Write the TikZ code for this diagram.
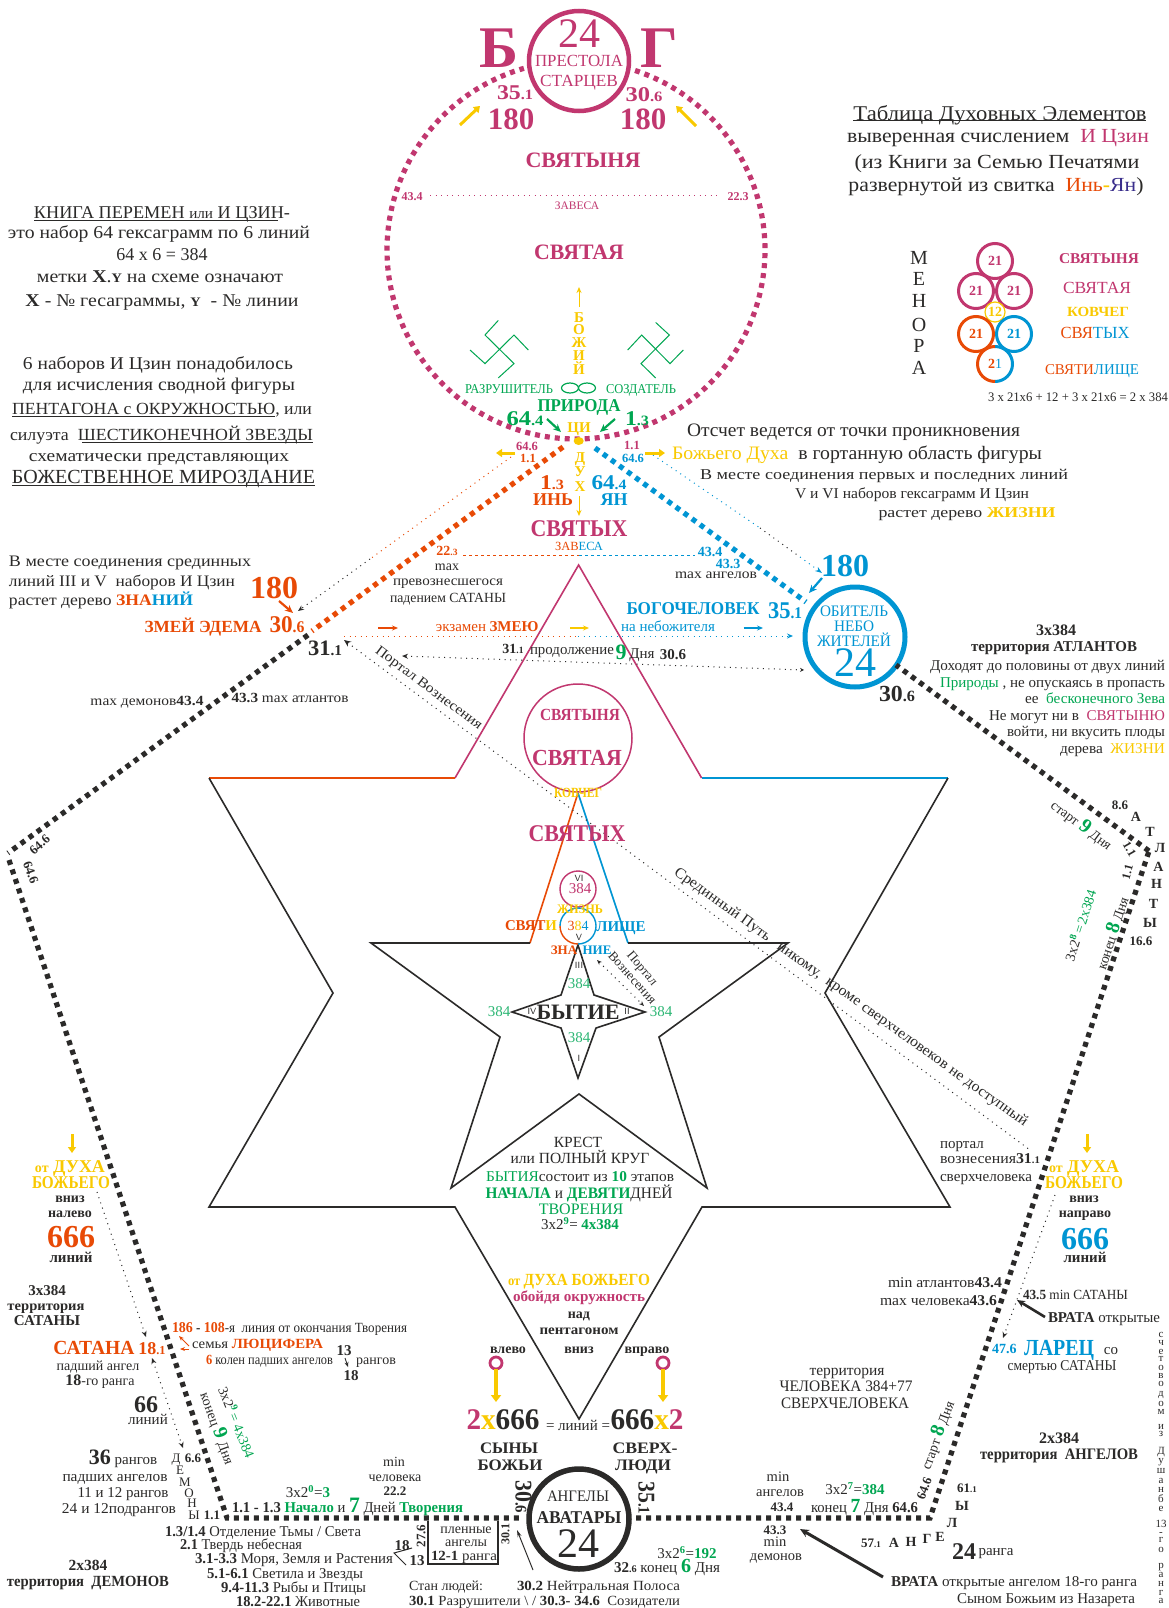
\documentclass[tikz,border=0pt]{standalone}
\usepackage{fontspec}
\usepackage{graphicx}
\setmainfont{Liberation Serif}
\usetikzlibrary{arrows.meta}
\definecolor{ink}{HTML}{2B2A29}
\definecolor{mg}{HTML}{C1376F}
\definecolor{og}{HTML}{E84A06}
\definecolor{bl}{HTML}{0095D3}
\definecolor{gd}{HTML}{F9C900}
\definecolor{gn}{HTML}{00A651}
\definecolor{gl}{HTML}{2BB673}
\definecolor{ya}{HTML}{3A2E8C}
\newcounter{tn}
\tikzset{
 lab/.style={inner sep=0pt,outer sep=0pt,anchor=mid,text=ink},
 lft/.style={anchor=mid west},
 rgt/.style={anchor=mid east},
 dots/.style={line width=5.2pt,dash pattern=on 5pt off 5pt},
 fine/.style={line width=1pt,dash pattern=on 1pt off 4.5pt},
 edge/.style={line width=1.6pt,line join=miter},
 bigarr/.style={line width=3pt,-{Triangle[length=6pt,width=8pt]}},
 thin arr/.style={line width=1pt,-{Stealth[length=6pt,width=5pt]}},
 med arr/.style={line width=2.2pt,-{Stealth[length=8pt,width=7pt]}},
 ring/.style={circle,draw,inner sep=0pt,outer sep=0pt},
}
\newcommand\T[4][]{\stepcounter{tn}\node[lab,yshift={-(0.25*#3-2.2)*1pt},#1] (t\arabic{tn}) at (#2) {\fontsize{#3}{#3}\selectfont #4};}
\newcommand\W[5][]{\stepcounter{tn}\node[lab,yshift={-(0.25*#3-2.2)*1pt},#1] (t\arabic{tn}) at (#2) {\fontsize{#3}{#3}\selectfont\resizebox{#4pt}{\height}{#5}};}
\newcommand\B[1]{\textbf{#1}}
\newcommand\sm[1]{\scalebox{.68}{#1}}
\newcommand\cc[2]{\textcolor{#1}{#2}}
\begin{document}
\begin{tikzpicture}[x=1pt,y=-1pt]
\fill[white] (0,0) rectangle (1168,1608);
\useasboundingbox (0,0) rectangle (1168,1608);
% ---------- key points
\coordinate (oTop) at (563,447);
\coordinate (oEnd) at (312,631);
\coordinate (kA) at (308,635);
\coordinate (kB) at (8,853);
\coordinate (kC) at (9,860);
\coordinate (kD) at (227,1518);
\coordinate (kE) at (522,1518);
\coordinate (kF) at (636,1518);
\coordinate (kG) at (930,1518);
\coordinate (kH) at (1149,851);
\coordinate (kI) at (896,665);
\coordinate (bTop) at (595,448);
\coordinate (bEnd) at (806,602);
% ---------- large star
\coordinate (s1) at (578.6,565);\coordinate (s2) at (701.6,778);\coordinate (s3) at (948,778);
\coordinate (s4) at (825,993);\coordinate (s5) at (950,1207);\coordinate (s6) at (702,1207);
\coordinate (s7) at (579,1419);\coordinate (s8) at (455,1207);\coordinate (s9) at (209,1207);
\coordinate (s10) at (333,993);\coordinate (s11) at (209,778);\coordinate (s12) at (455,778);
\draw[edge,mg] (s12)--(s1)--(s2);
\draw[edge,bl] (s2)--(s3);
\draw[edge,og] (s11)--(s12);
\draw[edge,ink] (s3)--(s4)--(s5)--(s6)--(s7)--(s8)--(s9)--(s10)--(s11);
% ---------- five pointed star
\coordinate (p1) at (578,793);\coordinate (p2) at (628,943);\coordinate (p3) at (788,943);
\coordinate (p4) at (659,1037);\coordinate (p5) at (707,1188);\coordinate (p6) at (579,1094);
\coordinate (p7) at (451,1188);\coordinate (p8) at (500,1037);\coordinate (p9) at (371,943);
\coordinate (p10) at (530,943);
\draw[edge,og] (p10)--(p1);
\draw[edge,bl] (p1)--(p2);
\draw[edge,ink] (p10)--(p9)--(p8)--(p7)--(p6)--(p5)--(p4)--(p3)--(p2);
% ---------- four pointed star
\draw[edge,ink] (578,945)--(594,995)--(645,1012)--(596,1028)--(578,1078)--(561,1028)--(512,1012)--(561,995)--cycle;
% ---------- heavy circles
\node[ring,mg,line width=4.5pt,minimum size=100pt] (throne) at (579,61) {};
\node[ring,bl,line width=5pt,minimum size=100pt] (abode) at (855,637) {};
\node[ring,ink,line width=5.5pt,minimum size=100pt] (avatars) at (579,1519) {};
\node[ring,mg,line width=1.5pt,minimum size=108pt] (sanct) at (578,738) {};
\node[ring,mg,line width=1.4pt,minimum size=36pt] (life) at (578,889) {};
\draw[bl,line width=1.4pt] (560,926) arc[start angle=180,end angle=-90,radius=18pt];
\draw[og,line width=1.4pt] (560,926) arc[start angle=180,end angle=270,radius=18pt];
% ---------- big dashed circle
\draw[mg,dots] plot[domain=-71.8:254,samples=220,smooth] ({576+189*cos(\x)},{250+189*sin(\x)});
\fill[gd] (578.7,441) ellipse[x radius=5pt,y radius=4pt];
% ---------- pentagon dashed
\draw[og,dots] (oTop)--(oEnd);
\draw[bl,dots] (bTop)--(bEnd);
\draw[ink,dots] (kA)--(kB);
\draw[ink,dots] (kC)--(kD)--(kE);
\draw[ink,dots] (kF)--(kG)--(kH);
\draw[ink,dots] (kH)--(kI);
% ---------- fine dotted lines
\draw[mg,fine] (430,196)--(718,196);
\draw[og,line width=1pt,dash pattern=on 3pt off 3pt] (463,555.4)--(579,555.4);
\draw[bl,line width=1pt,dash pattern=on 3pt off 3pt] (579,555.4)--(695,555.4);
\draw[og,fine] (511,457)--(370,559);
\draw[ink,fine,-{Stealth[length=6pt,width=5pt]}] (370,559)--(298,611);
\draw[bl,fine] (653,455)--(760,528);
\draw[ink,fine] (760,528)--(800,557);
\draw[bl,fine,-{Stealth[length=7pt,width=5pt]}] (800,557)--(822,573);
\draw[og,fine] (344,636)--(578,636);
\draw[bl,fine,-{Stealth[length=6pt,width=5pt]}] (578,636)--(793,636);
\draw[ink,fine,{Stealth[length=6pt,width=5pt]}-{Stealth[length=4pt,width=4pt]}] (402,656)--(804,670);
\draw[ink,fine,{Stealth[length=7pt,width=6pt]}-] (344,640)--(1030,1150);
\draw[ink,fine,{Stealth[length=5pt,width=4pt]}-{Stealth[length=5pt,width=4pt]}] (597,960)--(644,1006);
\draw[ink,fine,-{Stealth[length=6pt,width=5pt]}] (97,1192)--(146,1337);
\draw[ink,fine,{Stealth[length=6pt,width=5pt]}-{Stealth[length=6pt,width=5pt]}] (152,1358)--(183,1448);
\draw[ink,fine,-{Stealth[length=6pt,width=5pt]}] (1055,1195)--(1003,1338);
% ---------- arrows
\draw[gd,bigarr] (460,125)--(480,106);
\draw[gd,bigarr] (696,126)--(676,106);
\draw[gd,thin arr] (579,307)--(579,287);
\draw[gd,thin arr] (579,496)--(579,516);
\draw[gn,med arr] (547,419)--(561,432);
\draw[gn,med arr] (615,419)--(600,432);
\draw[gd,bigarr] (515,453)--(496,453);
\draw[gd,bigarr] (645,453)--(665,453);
\draw[og,med arr] (279,601)--(293,613);
\draw[bl,med arr] (822,578)--(809,593);
\draw[og,line width=1.2pt,-{Stealth[length=6pt,width=5pt]}] (378,628)--(398,628);
\draw[gd,line width=1.2pt,-{Stealth[length=6pt,width=5pt]}] (570,628)--(589,628);
\draw[bl,line width=1.2pt,-{Stealth[length=6pt,width=5pt]}] (743.5,628)--(763,628);
\draw[gd,bigarr] (72,1134)--(72,1153);
\draw[gd,bigarr] (1087,1134)--(1087,1153);
\draw[og,line width=1pt,-{Stealth[length=5pt,width=4pt]}] (189,1346)--(179,1336);
\draw[og,line width=1pt,-{Stealth[length=5pt,width=4pt]}] (189,1349)--(180,1349);
\draw[ink,line width=.8pt,-{Stealth[length=5pt,width=4pt]}] (345,1358)--(348,1367);
\draw[ink,line width=1pt] (412,1548)--(394,1553)--(406,1565);
\draw[ink,line width=1pt,-{Stealth[length=7pt,width=4pt]}] (533,1570)--(517,1530);
\draw[ink,line width=2.6pt,-{Stealth[length=8pt,width=7pt]}] (1045,1317)--(1017,1300);
\draw[ink,line width=3pt,-{Stealth[length=9pt,width=8pt]}] (883,1577)--(800,1529);
\node[ring,mg,line width=2.8pt,minimum size=12pt] (ringL) at (496,1363) {};
\node[ring,mg,line width=2.8pt,minimum size=12pt] (ringR) at (663,1363) {};
\draw[gd,line width=4pt,-{Triangle[length=7pt,width=10pt]}] (ringL)--(496,1402);
\draw[gd,line width=4pt,-{Triangle[length=7pt,width=10pt]}] (ringR)--(663,1402);
% captive angels box
\draw[ink,line width=1.4pt] (428,1521)--(428,1564)--(498,1564)--(498,1521);
% swastikas
\draw[gn,line width=1pt] (498.3,320.4)--(485,335)--(514,363.6)--(498.3,377.9);
\draw[gn,line width=1pt] (470,350)--(485,363.6)--(514,335)--(528.3,350);
\draw[gn,line width=1pt] (655.7,322.5)--(669.3,335)--(641,363.6)--(655.7,378);
\draw[gn,line width=1pt] (627.7,350)--(641.7,335)--(670,363.6)--(683.3,350);
\draw[gn,line width=1.2pt] (570,388) ellipse[x radius=8.5pt,y radius=5pt];
\draw[gn,line width=1.2pt] (587,388) ellipse[x radius=8.5pt,y radius=5pt];
% menorah
\node[ring,mg,line width=3pt,minimum size=35pt] (m1) at (995,261) {};
\node[ring,mg,line width=3pt,minimum size=35pt] (m2) at (976,291) {};
\node[ring,mg,line width=3pt,minimum size=35pt] (m3) at (1014,291) {};
\node[ring,gd,line width=1.2pt,minimum size=20pt] (m4) at (995,312) {};
\node[ring,og,line width=3pt,minimum size=35pt] (m5) at (976,334) {};
\node[ring,bl,line width=3pt,minimum size=35pt] (m6) at (1014,334) {};
\draw[bl,line width=3pt] (995,346.5) arc[start angle=90,end angle=-90,radius=17.5pt];
\draw[og,line width=3pt] (995,346.5) arc[start angle=90,end angle=270,radius=17.5pt];
% underlines
\draw[ink,line width=1pt] (34,220)--(278,220);
\draw[ink,line width=1pt] (12,416)--(275,416);
\draw[ink,line width=1pt] (82,442)--(313,442);
\draw[ink,line width=1pt] (12,485)--(315,485);
\draw[ink,line width=1pt] (853,121)--(1146,121);
% ---------- top
\T{499,53}{59}{\cc{mg}{\B{Б}}}
\T{659,53}{59}{\cc{mg}{\B{Г}}}
\T{579,37.4}{42}{\cc{mg}{24}}
\W{579,62}{17}{88}{\cc{mg}{ПРЕСТОЛА}}
\W{579,82}{17}{78}{\cc{mg}{СТАРЦЕВ}}
\W{515,94}{21}{36}{\cc{mg}{\B{35\sm{.1}}}}
\W{644,96}{21}{37}{\cc{mg}{\B{30\sm{.6}}}}
\T{511,122}{31}{\cc{mg}{\B{180}}}
\T{643,122}{31}{\cc{mg}{\B{180}}}
\W{583,162}{22}{115}{\cc{mg}{\B{СВЯТЫНЯ}}}
\T{412,197}{12}{\cc{mg}{\B{43.4}}}
\T{738,197}{12}{\cc{mg}{\B{22.3}}}
\T{577,207}{11.5}{\cc{mg}{ЗАВЕСА}}
\W{579,254}{22}{90}{\cc{mg}{\B{СВЯТАЯ}}}
\T{579,319}{15}{\cc{gd}{\B{Б}}}
\T{579,331}{15}{\cc{gd}{\B{О}}}
\T{579,344}{15}{\cc{gd}{\B{Ж}}}
\T{579,357}{15}{\cc{gd}{\B{И}}}
\T{579,371}{15}{\cc{gd}{\B{Й}}}
\W{509,390}{13.5}{88}{\cc{gn}{РАЗРУШИТЕЛЬ}}
\W{641,390}{13.5}{70}{\cc{gn}{СОЗДАТЕЛЬ}}
\W{579,407}{18}{83}{\cc{gn}{\B{ПРИРОДА}}}
\W{525,420}{21}{37}{\cc{gn}{\B{64\sm{.4}}}}
\W{637,420}{21}{24}{\cc{gn}{\B{1\sm{.3}}}}
\T{579,429}{15}{\cc{gd}{\B{ЦИ}}}
\T{527,447}{12.5}{\cc{mg}{\B{64.6}}}
\T{528,459}{12.5}{\cc{og}{\B{1.1}}}
\T{632,446}{12.5}{\cc{mg}{\B{1.1}}}
\T{633,459}{12.5}{\cc{bl}{\B{64.6}}}
\T{580,459}{15}{\cc{gd}{\B{Д}}}
\T{580,473}{15}{\cc{gd}{\B{У}}}
\T{580,488}{15}{\cc{gd}{\B{Х}}}
\W{552,484}{21}{24}{\cc{og}{\B{1\sm{.3}}}}
\T{553,501}{18}{\cc{og}{\B{ИНЬ}}}
\W{609,484}{21}{35}{\cc{bl}{\B{64\sm{.4}}}}
\T{614,501}{18}{\cc{bl}{\B{ЯН}}}
\W{579,530}{24}{97}{\cc{mg}{\B{СВЯТЫХ}}}
\T{579,547}{12.5}{\cc{og}{ЗАВ}\cc{bl}{ЕСА}}
\T{447,552}{14}{\cc{og}{\B{22\sm{.3}}}}
\T{710,553}{14}{\cc{bl}{\B{43.4}}}
\T{728,565}{14}{\cc{bl}{\B{43.3}}}
\T{447,567}{14}{max}
\W{448,582}{14}{110}{превознесшегося}
\W{448,599}{14}{116}{падением САТАНЫ}
\W{716,575}{14}{82}{max ангелов}
% ---------- right explanations
\W[lft]{687,432}{19}{333}{Отсчет ведется от точки проникновения}
\W[lft]{672,455}{19}{370}{\cc{gd}{Божьего Духа}\ \ в гортанную область фигуры}
\W{884,476}{15}{368}{В месте соединения первых и последних линий}
\W{912,495}{15}{234}{V и VI наборов гексаграмм И Цзин}
\W{967,514}{15}{177}{растет дерево \cc{gd}{\B{ЖИЗНИ}}}
\W[lft]{9,562}{16}{242}{В месте соединения срединных}
\W[lft]{9,582}{16}{226}{линий III и V\ \ наборов И Цзин}
\W[lft]{9,601}{16}{184}{растет дерево \cc{og}{\B{ЗНА}}\cc{bl}{\B{НИЙ}}}
\T{274,590}{32}{\cc{og}{\B{180}}}
\W{203,628}{17}{117}{\cc{og}{\B{ЗМЕЙ ЭДЕМА}}}
\W{287,626}{24}{35}{\cc{og}{\B{30\sm{.6}}}}
\W{325,650}{22}{34}{\B{31\sm{.1}}}
\T{461,628}{15}{\cc{og}{экзамен}}
\T{514,628}{15}{\cc{og}{\B{ЗМЕЮ}}}
\T{668,628}{15}{\cc{bl}{на небожителя}}
\W{693,610}{18}{133}{\cc{bl}{\B{БОГОЧЕЛОВЕК}}}
\W{785,612}{24}{34}{\cc{bl}{\B{35\sm{.1}}}}
\T{845,568}{32}{\cc{bl}{\B{180}}}
\W{854,612}{16}{68}{\cc{bl}{ОБИТЕЛЬ}}
\W{854,627}{16}{40}{\cc{bl}{НЕБО}}
\W{854,642}{16}{74}{\cc{bl}{ЖИТЕЛЕЙ}}
\T{855,666}{42}{\cc{bl}{24}}
\T{513,650}{14}{\B{31\sm{.1}}}
\W[lft]{530,651}{15}{84}{продолжение}
\T{621,654}{22}{\cc{gn}{\B{9}}}
\T{642,655}{15}{Дня}
\T{673,656}{15}{\B{30.6}}
\W{147,702}{14}{113}{max демонов\B{43.4}}
\W{290,699}{14}{117}{\B{43.3} max атлантов}
\T[rotate=42]{41,845}{13}{\B{64.6}}
\T[rotate=-70]{29,872}{13}{\B{64.6}}
\W[rotate=-37]{428,688}{14}{130}{Портал Вознесения}
\W[rotate=-35.8]{850,997}{15}{432}{Срединный Путь\ \ \ никому,\ \ кроме сверхчеловеков не доступный}
\W{897,696}{23}{36}{\B{30\sm{.6}}}
\T{1056,631}{16}{\B{3x384}}
\W{1054,648}{15}{166}{\B{территория  АТЛАНТОВ}}
\W[rgt]{1165,667}{15}{235}{Доходят до половины от двух линий}
\W[rgt]{1165,684}{15}{225}{\cc{gn}{Природы} , не опускаясь в пропасть}
\W[rgt]{1165,700}{15}{140}{ее\ \ \cc{gn}{бесконечного Зева}}
\W[rgt]{1165,717}{15}{176}{Не могут ни в\ \ \cc{mg}{СВЯТЫНЮ}}
\W[rgt]{1165,733}{15}{158}{войти, ни вкусить плоды}
\W[rgt]{1165,750}{15}{105}{дерева\ \ \cc{gd}{ЖИЗНИ}}
\T{1120,806}{13}{\B{8.6}}
\T{1136,818}{14}{\B{А}}\T{1150,833}{14}{\B{Т}}\T{1160,849}{14}{\B{Л}}\T{1158.5,868}{14}{\B{А}}
\T{1156.5,885}{14}{\B{Н}}\T{1153.5,905}{14}{\B{Т}}\T{1150,924}{14}{\B{Ы}}
\T{1141,942}{13}{\B{16.6}}
\T[rotate=-37]{1080,826}{14}{старт \cc{gn}{\B{\fontsize{20}{20}\selectfont 9}} Дня}
\T[rotate=-60]{1128,849}{12}{\B{1.1}}
\T[rotate=75]{1129,872}{12}{\B{1.1}}
\T[rotate=72]{1115,933}{14}{конец \cc{gn}{\B{\fontsize{20}{20}\selectfont 8}} Дня}
\T[rotate=72]{1083,925}{14}{3x2\textsuperscript{\cc{gn}{\B{8}}}\,\cc{gn}{=\,2x384}}
% ---------- central stars text
\W{580,716}{17}{80}{\cc{mg}{\B{СВЯТЫНЯ}}}
\W{577,760}{23}{90}{\cc{mg}{\B{СВЯТАЯ}}}
\W{578,794}{14}{48}{\cc{gd}{\B{КОВЧЕГ}}}
\W{577,835}{24}{97}{\cc{mg}{\B{СВЯТЫХ}}}
\T{579,879}{9}{\sffamily VI}
\T{580,890}{15}{\cc{mg}{384}}
\W{580,910}{13}{46}{\cc{gd}{\B{ЖИЗНЬ}}}
\T{578,927}{14}{\cc{og}{3}\cc{gd}{8}\cc{bl}{4}}
\W[rgt]{557,927}{15}{52}{\cc{og}{\B{СВЯТ}}\cc{gd}{\B{И}}}
\T{621,928}{15}{\cc{bl}{\B{ЛИЩЕ}}}
\T{579,938}{9}{\sffamily V}
\T{564,951}{13}{\cc{og}{\B{ЗНА}}}
\T{597,951}{13}{\cc{bl}{\B{НИЕ}}}
\T{579,966}{9}{\sffamily III}
\T{579,985}{15}{\cc{gl}{384}}
\W{578,1014}{22}{83}{\B{БЫТИЕ}}
\T{532,1012}{9}{\sffamily IV}
\T{627,1012}{9}{\sffamily II}
\T{499,1013}{15}{\cc{gl}{384}}
\T{661,1013}{15}{\cc{gl}{384}}
\T{579,1039}{15}{\cc{gl}{384}}
\T{579,1059}{9}{\sffamily I}
\T[rotate=-50]{641,968}{13}{Портал}
\T[rotate=-48]{631,978}{13}{Вознесения}
\T{578,1144}{15.5}{КРЕСТ}
\T{580,1160}{15.5}{или ПОЛНЫЙ КРУГ}
\W{580,1178}{15}{188}{\cc{gn}{БЫТИЯ}состоит из \cc{gn}{\B{10}} этапов}
\W{579,1194}{16}{187}{\cc{gn}{\B{НАЧАЛА}} и \cc{gn}{\B{ДЕВЯТИ}}ДНЕЙ}
\T{581,1210}{16}{\cc{gn}{ТВОРЕНИЯ}}
\T{580,1226}{15}{3x2\textsuperscript{\cc{gn}{\B{9}}}= \cc{gn}{\B{4x384}}}
\W{579,1281}{17}{142}{\cc{gd}{\fontsize{14}{14}\selectfont\B{от} \fontsize{17}{17}\selectfont\B{ДУХА БОЖЬЕГО}}}
\W{579,1298}{15}{132}{\cc{mg}{\B{обойдя окружность}}}
\T{579,1315}{14}{\B{над}}
\W{579,1331}{14}{79}{\B{пентагоном}}
\T{579,1350}{14}{\B{вниз}}
\T{508,1350}{14}{\B{влево}}
\T{647,1350}{14}{\B{вправо}}
\W{503,1422}{30}{73}{\B{\cc{mg}{2}\cc{gd}{x}666}}
\W{647,1422}{30}{73}{\B{666\cc{gd}{x}\cc{mg}{2}}}
\T{578,1427}{15}{= линий =}
\W{509,1449}{16}{58}{\B{СЫНЫ}}
\W{510,1466}{16}{65}{\B{БОЖЬИ}}
\W{645,1449}{16}{65}{\B{СВЕРХ-}}
\W{643,1466}{16}{56}{\B{ЛЮДИ}}
\W[rotate=-90]{518,1493}{24}{33}{\B{30\sm{.6}}}
\W[rotate=-90]{641,1494}{24}{33}{\B{35\sm{.1}}}
\W{578,1497}{16}{62}{АНГЕЛЫ}
\W{579,1519}{18}{85}{\B{АВАТАРЫ}}
\T{578,1547}{42}{24}
\T{687,1555}{15}{3x2\textsuperscript{\cc{gn}{\B{6}}}=\cc{gn}{\B{192}}}
\W[rgt]{720,1569}{15}{106}{\B{32\sm{.6}} конец \cc{gn}{\B{\fontsize{20}{20}\selectfont 6}} Дня}
% ---------- left side upper
\W{162,214}{18}{256}{КНИГА ПЕРЕМЕН {\fontsize{15}{15}\selectfont или} И ЦЗИН-}
\W{159,234}{18}{302}{это набор 64 гексаграмм по 6 линий}
\T{162,256}{18}{64 x 6 = 384}
\W{160,278}{18}{246}{метки \B{X}.\B{\fontsize{13}{13}\selectfont Y} на схеме означают}
\W{162,302}{18}{273}{\B{X} - № гесаграммы, \B{\fontsize{13}{13}\selectfont Y}\ \ - № линии}
\W{158,365}{18}{270}{6 наборов И Цзин понадобилось}
\W{159,386}{18}{272}{для исчисления сводной фигуры}
\W[lft]{12,410}{17}{300}{ПЕНТАГОНА с ОКРУЖНОСТЬЮ, или}
\W[lft]{10,436}{17}{303}{силуэта\ \ ШЕСТИКОНЕЧНОЙ ЗВЕЗДЫ}
\W{159,457}{17}{260}{схематически представляющих}
\W[lft]{12,478}{20}{303}{БОЖЕСТВЕННОЕ МИРОЗДАНИЕ}
% ---------- top right
\W{1000,115}{21}{293}{Таблица Духовных Элементов}
\W{998,137}{20}{302}{выверенная счислением\ \ \cc{mg}{И Цзин}}
\W{997,163}{20}{285}{(из Книги за Семью Печатями}
\W{996,186}{20}{295}{развернутой из свитка\ \ \cc{og}{Инь}\cc{gd}{\B{-}}\cc{ya}{Ян})}
\T{919,259}{20}{М}\T{919,280}{20}{Е}\T{919,302}{20}{Н}\T{919,326}{20}{О}\T{919,347}{20}{Р}\T{919,369}{20}{А}
\T{995,262}{14}{\cc{mg}{\B{21}}}
\T{976,292}{14}{\cc{mg}{\B{21}}}
\T{1014,292}{14}{\cc{mg}{\B{21}}}
\T{995,313}{14}{\cc{gd}{\B{12}}}
\T{976,335}{14}{\cc{og}{\B{21}}}
\T{1014,335}{14}{\cc{bl}{\B{21}}}
\T{995,365}{14}{\cc{og}{\B{2}}\cc{bl}{1}}
\W{1099,260}{15}{80}{\cc{mg}{\B{СВЯТЫНЯ}}}
\W{1097,289}{17}{68}{\cc{mg}{СВЯТАЯ}}
\W{1098,313}{14}{62}{\cc{gd}{\B{КОВЧЕГ}}}
\W{1095,334}{17}{69}{\cc{og}{СВЯ}\cc{bl}{ТЫХ}}
\W{1092,371}{15}{94}{\cc{og}{СВЯТИ}\cc{bl}{ЛИЩЕ}}
\W{1078,398}{13}{180}{3 x 21x6 + 12 + 3 x 21x6 = 2 x 384}
% ---------- lower left
\T{70,1168}{18}{\cc{gd}{\B{{\fontsize{14}{14}\selectfont от} ДУХА}}}
\W{71,1184}{18}{78}{\cc{gd}{\B{БОЖЬЕГО}}}
\T{70,1199}{14}{\B{вниз}}
\T{70,1214}{14}{\B{налево}}
\T{71,1239}{32}{\cc{og}{\B{666}}}
\T{71,1259}{15}{\B{линий}}
\T{47,1292}{15}{\B{3x384}}
\W{46,1307}{14}{77}{\B{территория}}
\T{47,1322}{15}{\B{САТАНЫ}}
\W{94,1349}{20}{81}{\cc{og}{\B{САТАНА}}}
\T{152,1350}{18}{\cc{og}{\B{18\sm{.1}}}}
\T{98,1367}{14}{падший ангел}
\T{100,1382}{14}{\B{\fontsize{16}{16}\selectfont 18}-го ранга}
\T{146,1406}{24}{\B{66}}
\T{148,1421}{15}{линий}
\T{123,1461}{15}{\B{\fontsize{22}{22}\selectfont 36} рангов}
\W{115,1478}{15}{105}{падших ангелов}
\W{123,1494}{15}{91}{11 и 12 рангов}
\W{119,1510}{15}{114}{24 и 12подрангов}
\T{176,1459}{13}{Д}\T{180,1471}{13}{Е}\T{185,1483}{13}{М}\T{189,1494}{13}{О}\T{192,1504}{13}{Н}\T{194,1516}{13}{Ы}
\T{193,1459}{13}{\B{6.6}}
\T{212,1516}{13}{\B{1.1}}
\W[lft]{172,1329}{14}{235}{\cc{og}{\B{\fontsize{15}{15}\selectfont 186}}\B{ - }\cc{og}{\B{\fontsize{15}{15}\selectfont 108}}-я\ \ линия от окончания Творения}
\W[lft]{192,1345}{14}{131}{семья \cc{og}{\B{ЛЮЦИФЕРА}}}
\W[lft]{206,1361}{14}{127}{\cc{og}{\B{6}} колен падших ангелов}
\T{344,1352}{15}{\B{13}}
\T{376,1361}{14}{рангов}
\T{351,1377}{15}{\B{18}}
\T[rotate=-70]{215,1428}{14}{конец \cc{gn}{\B{\fontsize{20}{20}\selectfont 9}} Дня}
\T[rotate=-68]{234,1422}{14}{3x2\textsuperscript{\cc{gn}{\B{9}}}\,\cc{gn}{= 4x384}}
\T{394,1463}{14}{min}
\T{395,1478}{14}{человека}
\T{395,1492}{13}{\B{22.2}}
\T{308,1494}{15}{3x2\textsuperscript{\cc{gn}{\B{0}}}=\cc{gn}{\B{3}}}
\W[lft]{232,1509}{15}{231}{\B{1.1 - 1.3} \cc{gn}{\B{Начало}} и \cc{gn}{\B{\fontsize{22}{22}\selectfont 7}} Дней \cc{gn}{\B{Творения}}}
\W[lft]{165,1533}{15}{196}{\B{1.3/1.4} Отделение Тьмы / Света}
\W[lft]{180,1546}{15}{122}{\B{2.1} Твердь небесная}
\W[lft]{195,1560}{15}{198}{\B{3.1-3.3} Моря, Земля и Растения}
\W[lft]{207,1575}{15}{156}{\B{5.1-6.1} Светила и Звезды}
\W[lft]{221,1589}{15}{145}{\B{9.4-11.3} Рыбы и Птицы}
\W[lft]{236,1603}{15}{124}{\B{18.2-22.1} Животные}
\T{88,1567}{15.5}{\B{2x384}}
\W{88,1583}{15.5}{162}{\B{территория\ \ ДЕМОНОВ}}
\T{402,1547}{15}{\B{18}}
\T{417,1562}{15}{\B{13}}
\T[rotate=90]{423,1535}{13}{\B{27.6}}
\T{466,1530}{14}{пленные}
\T{466,1543}{14}{ангелы}
\W{464,1557}{14}{66}{\B{12-1} ранга}
\T[rotate=90]{507,1533}{12}{\B{30.1}}
\T[lft]{409,1587}{14}{Стан людей:}
\W[lft]{517,1587}{14}{163}{\B{30.2} Нейтральная Полоса}
\W[lft]{409,1602}{14}{271}{\B{30.1} Разрушители \textbackslash\ / \B{30.3- 34.6}\ \ Созидатели}
% ---------- lower right
\T[lft]{940,1145}{15}{портал}
\W[lft]{940,1160}{15}{100}{вознесения\B{31\sm{.1}}}
\W[lft]{940,1178}{15}{92}{сверхчеловека}
\T{1084,1168}{18}{\cc{gd}{\B{{\fontsize{14}{14}\selectfont от} ДУХА}}}
\W{1084,1184}{18}{78}{\cc{gd}{\B{БОЖЬЕГО}}}
\T{1084,1199}{14}{\B{вниз}}
\T{1085,1214}{14}{\B{направо}}
\T{1085,1241}{32}{\cc{bl}{\B{666}}}
\T{1085,1259}{15}{\B{линий}}
\W[rgt]{1002,1284}{15}{114}{min атлантов\B{43.4}}
\W[rgt]{997,1302}{15}{117}{max человека\B{43.6}}
\W[lft]{1023,1296}{14}{105}{\B{43.5} min САТАНЫ}
\W[lft]{1048,1319}{15}{112}{\B{ВРАТА} открытые}
\T[lft]{992,1350}{14}{\cc{bl}{\B{47.6}}}
\W{1059,1350}{23}{70}{\cc{bl}{\B{ЛАРЕЦ}}}
\T{1111,1351}{15}{со}
\W{1062,1367}{15}{109}{смертью САТАНЫ}
\T{847,1372}{15.5}{территория}
\W{846,1387}{16}{133}{ЧЕЛОВЕКА 384+77}
\W{845,1404}{16}{128}{СВЕРХЧЕЛОВЕКА}
\T[rotate=70]{940,1435}{14}{старт \cc{gn}{\B{\fontsize{20}{20}\selectfont 8}} Дня}
\T[rotate=70]{926,1488}{13}{\B{64.6}}
\T{778,1478}{14.5}{min}
\T{780,1493}{14.5}{ангелов}
\T{782,1508}{13}{\B{43.4}}
\T{855,1491}{15}{3x2\textsuperscript{\cc{gn}{\B{7}}}=\cc{gn}{\B{384}}}
\W[lft]{811,1509}{15}{107}{конец \cc{gn}{\B{\fontsize{20}{20}\selectfont 7}} Дня \B{64.6}}
\T{775,1531}{13}{\B{43.3}}
\T{775,1543}{14.5}{min}
\T{776,1557}{14.5}{демонов}
\W[lft]{891,1583}{15}{246}{\B{ВРАТА} открытые ангелом 18-го ранга}
\W[lft]{957,1600}{15}{178}{Сыном Божьим из Назарета}
\T{967,1489}{13}{\B{61\sm{.1}}}
\T{962,1507}{14}{\B{Ы}}\T{952,1524}{14}{\B{Л}}\T{940,1538}{14}{\B{Е}}\T{927,1540}{14}{\B{Г}}\T{911,1543}{14}{\B{Н}}\T{894,1544}{14}{\B{А}}
\T{871,1544}{13}{\B{57\sm{.1}}}
\T{964,1553}{24}{\B{24}}
\T{996,1552}{15}{ранга}
\T{1059,1439}{16}{\B{2x384}}
\W{1059,1455}{16}{158}{\B{территория\ \ АНГЕЛОВ}}
\foreach \ch/\yy in {с/1335,ч/1343,е/1352,т/1359,о/1368,в/1376,о/1384,д/1394,о/1404,м/1412,и/1427,з/1434,Д/1452,у/1461,ш/1471,а/1481,н/1490,б/1500,е/1509,13/1525,-/1533,г/1540,о/1550,р/1566,а/1575,н/1584,г/1593,а/1601}{\T{1161,\yy}{11}{\ch}}
\end{tikzpicture}
\end{document}
